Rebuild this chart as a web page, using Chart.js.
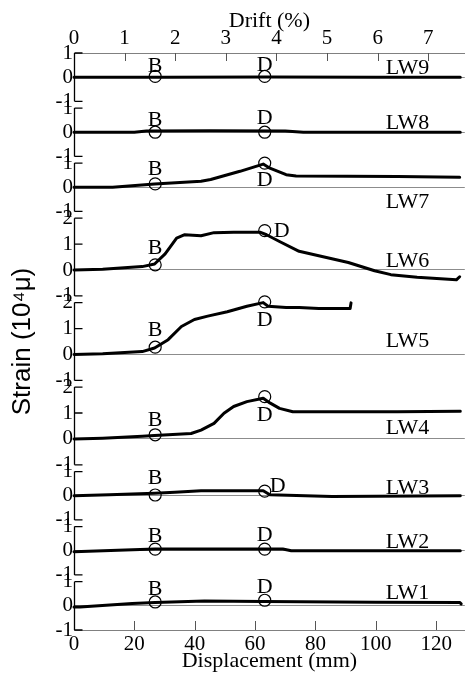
<!DOCTYPE html>
<html>
<head>
<meta charset="utf-8">
<script src="https://cdn.jsdelivr.net/npm/chart.js@4.4.0/dist/chart.umd.min.js"></script>
<style>
  body { margin: 0; background: #fff; }
  #wrap { width: 472px; height: 677px; }
</style>
</head>
<body>
<div id="wrap"><canvas id="strain"></canvas></div>
<script>
// gauges, top panel to bottom panel
const gauges = ['LW9', 'LW8', 'LW7', 'LW6', 'LW5', 'LW4', 'LW3', 'LW2', 'LW1'];
const yTop = [1, 1, 1, 2, 2, 2, 1, 1, 1];

const dispTicks = [0, 20, 40, 60, 80, 100, 120];
const driftTicks = [0, 1, 2, 3, 4, 5, 6, 7];
const dispMax = 129.5;
const mmPerDrift = 16.77;

// displacement (mm) / strain (10^4 micro)
const lw9X = [0, 30, 64, 100, 128];
const lw9Y = [0, 0, 0.01, 0, 0];
const lw8X = [0, 20, 24, 45, 70, 76, 128];
const lw8Y = [0, 0, 0.05, 0.06, 0.05, 0, 0];
const lw7X = [0, 12.8, 26.7, 42.1, 45.3, 55, 62.7, 64.9, 70.3, 73.6, 107.2, 127.8];
const lw7Y = [0, 0, 0.14, 0.25, 0.32, 0.66, 0.96, 0.79, 0.52, 0.47, 0.45, 0.41];
const lw6X = [0, 9.5, 22.6, 26.7, 30.2, 34, 36.7, 42.1, 46.4, 52.9, 61.6, 63.8, 68.1, 74.6, 81.1, 90.9, 99.6, 105, 113.7, 126.7, 127.8];
const lw6Y = [0, 0.03, 0.13, 0.23, 0.62, 1.23, 1.36, 1.32, 1.44, 1.46, 1.46, 1.36, 1.1, 0.72, 0.55, 0.29, -0.03, -0.18, -0.28, -0.38, -0.26];
const lw5X = [0, 9.5, 22.6, 26.7, 31.2, 35.6, 39.9, 44.3, 50.8, 57.3, 62.7, 64.3, 70.3, 74.6, 81.1, 91.5, 91.8];
const lw5Y = [0, 0.03, 0.11, 0.25, 0.57, 1.08, 1.35, 1.48, 1.65, 1.86, 2.0, 1.86, 1.81, 1.81, 1.77, 1.77, 1.99];
const lw4X = [0, 9.5, 22.6, 26.7, 38.8, 42.1, 46.4, 49.7, 52.9, 57.3, 62.7, 64.9, 68.1, 72.5, 107.2, 128];
const lw4Y = [0, 0.03, 0.1, 0.13, 0.21, 0.34, 0.6, 0.99, 1.25, 1.44, 1.57, 1.39, 1.18, 1.05, 1.05, 1.07];
const lw3X = [0, 11.7, 26.7, 33.4, 42.1, 62.7, 64.9, 85.5, 128];
const lw3Y = [0, 0.04, 0.1, 0.14, 0.21, 0.21, 0.04, -0.03, 0];
const lw2X = [0, 17, 26.9, 69.2, 72, 128];
const lw2Y = [-0.04, 0.03, 0.07, 0.07, 0, 0];
const lw1X = [0, 2, 19.3, 26.9, 43.2, 62.7, 100, 127.8, 128.3];
const lw1Y = [-0.05, -0.05, 0.1, 0.14, 0.2, 0.18, 0.15, 0.14, 0.08];

const curveX = [lw9X, lw8X, lw7X, lw6X, lw5X, lw4X, lw3X, lw2X, lw1X];
const curveY = [lw9Y, lw8Y, lw7Y, lw6Y, lw5Y, lw4Y, lw3Y, lw2Y, lw1Y];

// B and D marks
const markX = [26.9, 63.2];
const markB = [0.03, 0, 0.14, 0.2, 0.28, 0.16, 0.03, 0.07, 0.16];
const markD = [0.03, 0, 1.0, 1.52, 2.03, 1.63, 0.19, 0.07, 0.23];

const serif = 'Liberation Serif';
const tickFont = { family: serif, size: 21 };

// gap between stacked panels (px)
const halfGap = 3.35;

const datasets = [];
gauges.forEach((g, i) => {
  datasets.push({
    yAxisID: g, xAxisID: 'x',
    data: [{ x: markX[0], y: markB[i] }, { x: markX[1], y: markD[i] }],
    showLine: false,
    clip: false,
    pointRadius: 6,
    pointStyle: 'circle',
    pointBorderColor: '#000',
    pointBorderWidth: 1.2,
    pointBackgroundColor: 'rgba(0,0,0,0)'
  });
  datasets.push({
    yAxisID: g, xAxisID: 'x',
    data: curveX[i].map((x, k) => ({ x: x, y: curveY[i][k] })),
    clip: false,
    borderColor: '#000',
    borderWidth: 3,
    borderJoinStyle: 'round',
    borderCapStyle: 'round',
    pointRadius: 0,
    tension: 0
  });
});

const scales = {
  x: {
    type: 'linear', position: 'bottom', min: 0, max: dispMax,
    afterBuildTicks: s => { s.ticks = dispTicks.map(v => ({ value: v })); },
    afterFit: s => { s.height = 47; },
    grid: { display: false, drawTicks: false },
    border: { display: true, color: '#808080', width: 1 },
    ticks: { font: tickFont, color: '#000', padding: 2, maxRotation: 0, autoSkip: false },
    title: { display: true, text: 'Displacement (mm)', color: '#000',
      font: { family: serif, size: 22 }, padding: { top: 0, bottom: 3 } }
  },
  x2: {
    type: 'linear', position: 'top', min: 0, max: dispMax / mmPerDrift,
    afterBuildTicks: s => { s.ticks = driftTicks.map(v => ({ value: v })); },
    afterFit: s => { s.height = 53; },
    grid: { display: false, drawTicks: false },
    border: { display: true, color: '#808080', width: 1 },
    ticks: { font: tickFont, color: '#000', padding: 2, maxRotation: 0, autoSkip: false },
    title: { display: true, text: 'Drift (%)', color: '#000',
      font: { family: serif, size: 22 }, padding: { top: 8, bottom: 0 } }
  }
};

gauges.forEach((g, i) => {
  const pxu = yTop[i] === 2 ? 25.9 : 24.15;
  const padT = i === 0 ? 0 : halfGap;
  const padB = i === gauges.length - 1 ? 0 : halfGap;
  const min = -1 - padB / pxu;
  const max = yTop[i] + padT / pxu;
  const tickVals = [];
  for (let v = -1; v <= yTop[i]; v++) tickVals.push(v);
  scales[g] = {
    type: 'linear', position: 'left', stack: 'strain',
    stackWeight: (max - min) * pxu,
    weight: gauges.length - i,
    min: min, max: max,
    afterBuildTicks: s => { s.ticks = tickVals.map(v => ({ value: v })); },
    afterFit: s => { s.width = 74; },
    grid: {
      drawTicks: false,
      lineWidth: 1,
      color: c => (c.tick && c.tick.value === 0) ? '#8c8c8c' : 'rgba(0,0,0,0)'
    },
    border: { display: false },
    ticks: { font: tickFont, color: '#000', padding: 1, autoSkip: false },
    title: g === 'LW5' ? {
      display: true, text: 'Strain (10\u2074\u03bc)', color: '#000',
      font: { family: 'Liberation Sans', size: 26 }, padding: { top: 7, bottom: 0 }
    } : { display: false }
  };
});

// label offsets for B, D and gauge names (px)
const bDy = [-4, -6, -9, -11, -11, -9, -11, -7, -7];
const dDx = [0, 0, 0, 17, 0, 0, 13, 0, 0];
const dDy = [-5, -8, 23, 6, 24, 24, 1, -8, -7];
const nameDy = [-3, -3, 21, -3, -7, -5, -2, -3, -7];

const panelDecor = {
  id: 'panelDecor',
  afterDraw(chart) {
    const ctx = chart.ctx;
    const area = chart.chartArea;
    const xs = chart.scales.x;
    const xt = chart.scales.x2;
    ctx.save();

    // inward ticks on the displacement and drift axes
    ctx.strokeStyle = '#555';
    ctx.lineWidth = 1;
    ctx.beginPath();
    dispTicks.slice(1).forEach(v => {
      const px = Math.round(xs.getPixelForValue(v)) + 0.5;
      ctx.moveTo(px, area.bottom);
      ctx.lineTo(px, area.bottom - 9);
    });
    driftTicks.slice(1).forEach(v => {
      const px = Math.round(xt.getPixelForValue(v)) + 0.5;
      ctx.moveTo(px, area.top);
      ctx.lineTo(px, area.top + 8);
    });
    ctx.stroke();

    // bracket axis on each panel
    ctx.strokeStyle = '#000';
    ctx.lineWidth = 1.3;
    gauges.forEach((g, i) => {
      const ys = chart.scales[g];
      const x0 = area.left + 0.5;
      const yt = ys.getPixelForValue(yTop[i]);
      const yb = ys.getPixelForValue(-1);
      ctx.beginPath();
      ctx.moveTo(x0, yt);
      ctx.lineTo(x0, yb);
      for (let v = -1; v <= yTop[i]; v++) {
        if (v === 0) continue;
        const py = ys.getPixelForValue(v);
        ctx.moveTo(x0, py);
        ctx.lineTo(x0 + 8, py);
      }
      ctx.stroke();
    });

    // B / D / gauge names
    ctx.fillStyle = '#000';
    ctx.font = '22px "Liberation Serif"';
    ctx.textAlign = 'center';
    ctx.textBaseline = 'alphabetic';
    gauges.forEach((g, i) => {
      const ys = chart.scales[g];
      const bx = xs.getPixelForValue(markX[0]);
      const dx = xs.getPixelForValue(markX[1]);
      ctx.fillText('B', bx, ys.getPixelForValue(markB[i]) + bDy[i]);
      ctx.fillText('D', dx + dDx[i], ys.getPixelForValue(markD[i]) + dDy[i]);
      ctx.fillText(g, xs.getPixelForValue(110.5), ys.getPixelForValue(0) + nameDy[i]);
    });
    ctx.restore();
  }
};

new Chart(document.getElementById('strain'), {
  type: 'line',
  data: { datasets: datasets },
  options: {
    responsive: true,
    maintainAspectRatio: false,
    animation: false,
    layout: { padding: 0 },
    plugins: { legend: { display: false }, tooltip: { enabled: false } },
    scales: scales
  },
  plugins: [panelDecor]
});
</script>
</body>
</html>
